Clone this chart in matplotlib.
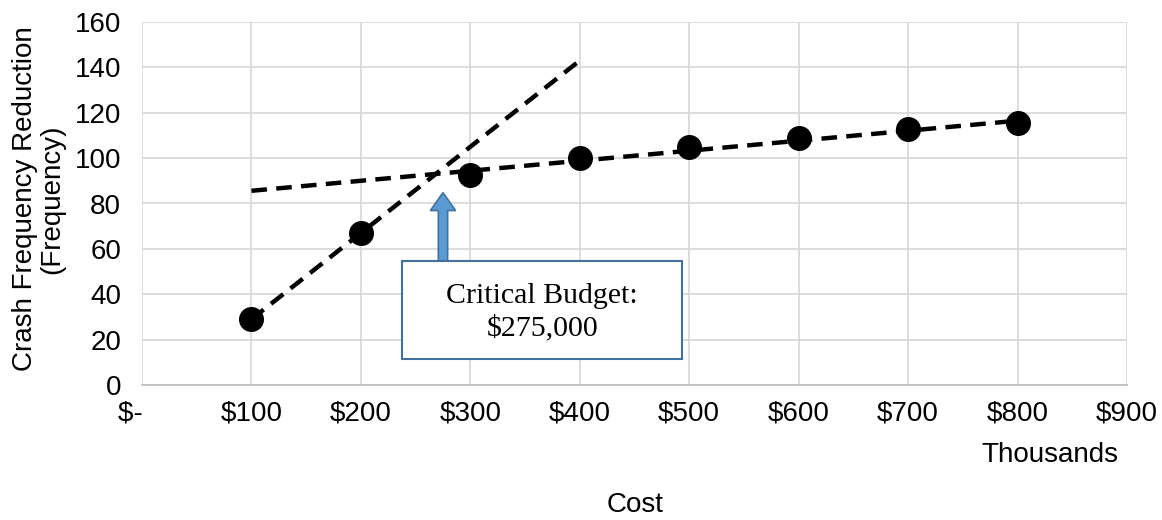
#!/usr/bin/env python3
"""
Crash frequency reduction vs. cost, with two linear trend segments
and the critical budget where they cross.
"""

import matplotlib
matplotlib.use('Agg')
import matplotlib.pyplot as plt
from matplotlib.patches import Rectangle, FancyArrow

# cost in thousands of dollars, reduction in crashes
cost = [100, 200, 300, 400, 500, 600, 700, 800]
reduction = [29, 67, 92.5, 100, 105, 109, 113, 115.5]

# trend segments (steep early gain, flat later gain)
steep_x = [100, 400]
steep_y = [29, 143]
flat_x = [100, 800]
flat_y = [85.6, 116.5]

critical_budget = 275000  # dollars
x_ticks = [0, 100, 200, 300, 400, 500, 600, 700, 800, 900]
x_tick_labels = ['$-   ', '$100', '$200', '$300', '$400', '$500',
                 '$600', '$700', '$800', '$900']
y_ticks = [0, 20, 40, 60, 80, 100, 120, 140, 160]

SANS = 'Liberation Sans'
SERIF = 'Liberation Serif'
GRID = '#D9D9D9'
FS = 20

fig = plt.figure(figsize=(11.62, 5.2), dpi=100)
ax = fig.add_axes([142 / 1162, 1 - 385 / 520, (1127 - 142) / 1162, (385 - 22) / 520])

dash = dict(color='black', lw=3.2, ls=(0, (3.5, 2.1)), dash_capstyle='butt')
ax.plot(steep_x, steep_y, zorder=3, **dash)
ax.plot(flat_x, flat_y, zorder=3, **dash)
ax.plot(cost, reduction, ls='none', marker='o', ms=17, color='black', zorder=4)

# callout box + block arrow pointing at the crossing
arrow_x = critical_budget / 1000
ax.add_patch(FancyArrow(arrow_x, 54.2, 0, 30.6 - 7.9, width=8.5,
                        head_width=23, head_length=7.9,
                        length_includes_head=False,
                        facecolor='#5B9BD5', edgecolor='#41719C', lw=1.2, zorder=5))
ax.add_patch(Rectangle((237.7, 11.5), 493.6 - 237.7, 54.6 - 11.5,
                       facecolor='white', edgecolor='#41719C', lw=1.5, zorder=6))
ax.text((237.7 + 493.6) / 2, 32.0, f'Critical Budget:\n${critical_budget:,}',
        ha='center', va='center', fontsize=21.5, family=SERIF, zorder=7,
        linespacing=1.3)

ax.set_xlim(0, 900)
ax.set_ylim(0, 160)
ax.set_xticks(x_ticks)
ax.set_xticklabels(x_tick_labels)
ax.set_yticks(y_ticks)
ax.grid(True, color=GRID, lw=1.3, zorder=0)
ax.set_axisbelow(True)
for side in ('top', 'right', 'left'):
    ax.spines[side].set_visible(False)
ax.spines['bottom'].set_color('#BFBFBF')
ax.spines['bottom'].set_linewidth(1.3)
ax.tick_params(length=0, labelsize=FS)
ax.tick_params(axis='x', pad=11)
ax.tick_params(axis='y', pad=15)
for lbl in ax.get_xticklabels() + ax.get_yticklabels():
    lbl.set_family(SANS)

fig.text(39 / 1162, 1 - 199 / 520, 'Crash Frequency Reduction\n(Frequency)',
         rotation=90, ha='center', va='center', fontsize=FS, family=SANS,
         linespacing=1.05)
fig.text(1118 / 1162, 1 - 455 / 520, 'Thousands', ha='right', va='center',
         fontsize=FS, family=SANS)
fig.text(635 / 1162, 1 - 505 / 520, 'Cost', ha='center', va='center',
         fontsize=FS, family=SANS)

fig.savefig('out.png', dpi=100)
